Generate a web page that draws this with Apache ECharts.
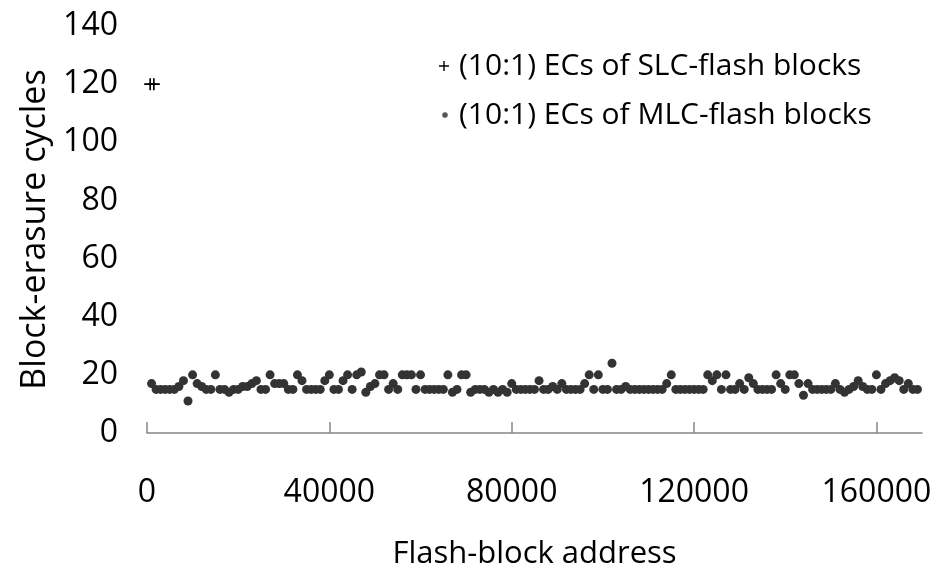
<!DOCTYPE html>
<html>
<head>
<meta charset="utf-8">
<script src="https://cdn.jsdelivr.net/npm/echarts@6/dist/echarts.min.js"></script>
<style>
	html, body { margin: 0; padding: 0; background: #fff; }
	#main { width: 943px; height: 575px; }
</style>
</head>
<body>
<div id="main"></div>
<script>
// SLC-flash blocks (two points near address 0)
var slcAddress = [700, 1500];
var slcCycles = [120, 120];

// MLC-flash blocks, one sample every ~1000 addresses
var mlcAddress = [
	1000, 2000, 3000, 4000, 5000, 6000, 7000, 8000, 9000, 10000,
	11000, 12000, 13000, 14000, 15000, 16000, 17000, 18000, 19000, 20000,
	21000, 22000, 23000, 24000, 25000, 26000, 27000, 28000, 29000, 30000,
	31000, 32000, 33000, 34000, 35000, 36000, 37000, 38000, 39000, 40000,
	41000, 42000, 43000, 44000, 45000, 46000, 47000, 48000, 49000, 50000,
	51000, 52000, 53000, 54000, 55000, 56000, 57000, 58000, 59000, 60000,
	61000, 62000, 63000, 64000, 65000, 66000, 67000, 68000, 69000, 70000,
	71000, 72000, 73000, 74000, 75000, 76000, 77000, 78000, 79000, 80000,
	81000, 82000, 83000, 84000, 85000, 86000, 87000, 88000, 89000, 90000,
	91000, 92000, 93000, 94000, 95000, 96000, 97000, 98000, 99000, 100000,
	101000, 102000, 103000, 104000, 105000, 106000, 107000, 108000, 109000, 110000,
	111000, 112000, 113000, 114000, 115000, 116000, 117000, 118000, 119000, 120000,
	121000, 122000, 123000, 124000, 125000, 126000, 127000, 128000, 129000, 130000,
	131000, 132000, 133000, 134000, 135000, 136000, 137000, 138000, 139000, 140000,
	141000, 142000, 143000, 144000, 145000, 146000, 147000, 148000, 149000, 150000,
	151000, 152000, 153000, 154000, 155000, 156000, 157000, 158000, 159000, 160000,
	161000, 162000, 163000, 164000, 165000, 166000, 167000, 168000, 169000
];
var mlcCycles = [
	17, 15, 15, 15, 15, 15, 16, 18, 11, 20,
	17, 16, 15, 15, 20, 15, 15, 14, 15, 15,
	16, 16, 17, 18, 15, 15, 20, 17, 17, 17,
	15, 15, 20, 18, 15, 15, 15, 15, 18, 20,
	15, 15, 18, 20, 15, 20, 21, 14, 16, 17,
	20, 20, 15, 17, 15, 20, 20, 20, 15, 20,
	15, 15, 15, 15, 15, 20, 14, 15, 20, 20,
	14, 15, 15, 15, 14, 15, 14, 15, 14, 17,
	15, 15, 15, 15, 15, 18, 15, 15, 16, 15,
	17, 15, 15, 15, 15, 17, 20, 15, 20, 15,
	15, 24, 15, 15, 16, 15, 15, 15, 15, 15,
	15, 15, 15, 17, 20, 15, 15, 15, 15, 15,
	15, 15, 20, 18, 20, 15, 20, 15, 15, 17,
	15, 19, 17, 15, 15, 15, 15, 20, 17, 15,
	20, 20, 17, 13, 17, 15, 15, 15, 15, 15,
	17, 15, 14, 15, 16, 18, 16, 15, 15, 20,
	15, 17, 18, 19, 18, 15, 17, 15, 15
];

var xTicks = [0, 40000, 80000, 120000, 160000];
var seriesNames = ['(10:1) ECs of SLC-flash blocks', '(10:1) ECs of MLC-flash blocks'];

var plusPath = 'path://M4.3,0h1.4v4.3h4.3v1.4h-4.3v4.3h-1.4v-4.3h-4.3v-1.4h4.3z';
// legend icons drawn inside an empty 16x12 box so they keep their size
var legendPlus = 'path://M0,0M16,12M5.3,1h1.4v4.3h4.3v1.4h-4.3v4.3h-1.4v-4.3h-4.3v-1.4h4.3z';
var legendDot = 'path://M0,0M16,12M7,3.2A2.8,2.8,0,1,1,6.99,3.2z';
var font = 'Open Sans';

var slcData = slcAddress.map(function(v, i) { return [v, slcCycles[i]]; });
var mlcData = mlcAddress.map(function(v, i) { return [v, mlcCycles[i]]; });

var myChart = echarts.init(document.getElementById('main'));
var option = {
	backgroundColor: '#fff',
	animation: false,
	textStyle: { fontFamily: font, color: '#000' },
	grid: { left: 147, right: 21, top: 26, bottom: 141 },
	legend: {
		orient: 'vertical',
		left: 433,
		top: 46,
		itemGap: 19,
		itemWidth: 16,
		itemHeight: 12,
		textStyle: { fontFamily: font, fontSize: 30, color: '#000' },
		data: [
			{ name: seriesNames[0], icon: legendPlus, itemStyle: { color: '#000' } },
			{ name: seriesNames[1], icon: legendDot, itemStyle: { color: '#555' } }
		]
	},
	xAxis: {
		type: 'value',
		min: 0,
		max: 170000,
		name: 'Flash-block address',
		nameLocation: 'middle',
		nameGap: 106,
		nameTextStyle: { fontFamily: font, fontSize: 31, color: '#000' },
		splitLine: { show: false },
		axisLine: { show: true, onZero: false, lineStyle: { color: '#868686', width: 1.5 } },
		axisTick: { show: true, inside: true, length: 11, customValues: xTicks, lineStyle: { color: '#868686', width: 1.5 } },
		axisLabel: {
			customValues: xTicks,
			margin: 44,
			fontSize: 32,
			color: '#000',
			fontFamily: font,
			formatter: function(v) { return String(v); }
		}
	},
	yAxis: {
		type: 'value',
		min: 0,
		max: 140,
		interval: 20,
		name: 'Block-erasure cycles',
		nameLocation: 'middle',
		nameGap: 95,
		nameTextStyle: { fontFamily: font, fontSize: 34, color: '#000' },
		splitLine: { show: false },
		axisLine: { show: false },
		axisTick: { show: false },
		axisLabel: { margin: 29, fontSize: 32, color: '#000', fontFamily: font, padding: [6, 0, 0, 0] }
	},
	series: [
		{
			name: seriesNames[0],
			type: 'scatter',
			symbol: plusPath,
			symbolSize: 12,
			itemStyle: { color: '#000', opacity: 1 },
			data: slcData,
			z: 3
		},
		{
			name: seriesNames[1],
			type: 'scatter',
			symbol: 'circle',
			symbolSize: 9,
			itemStyle: { color: '#333', opacity: 1 },
			data: mlcData,
			z: 2
		}
	]
};
myChart.setOption(option);
</script>
</body>
</html>
